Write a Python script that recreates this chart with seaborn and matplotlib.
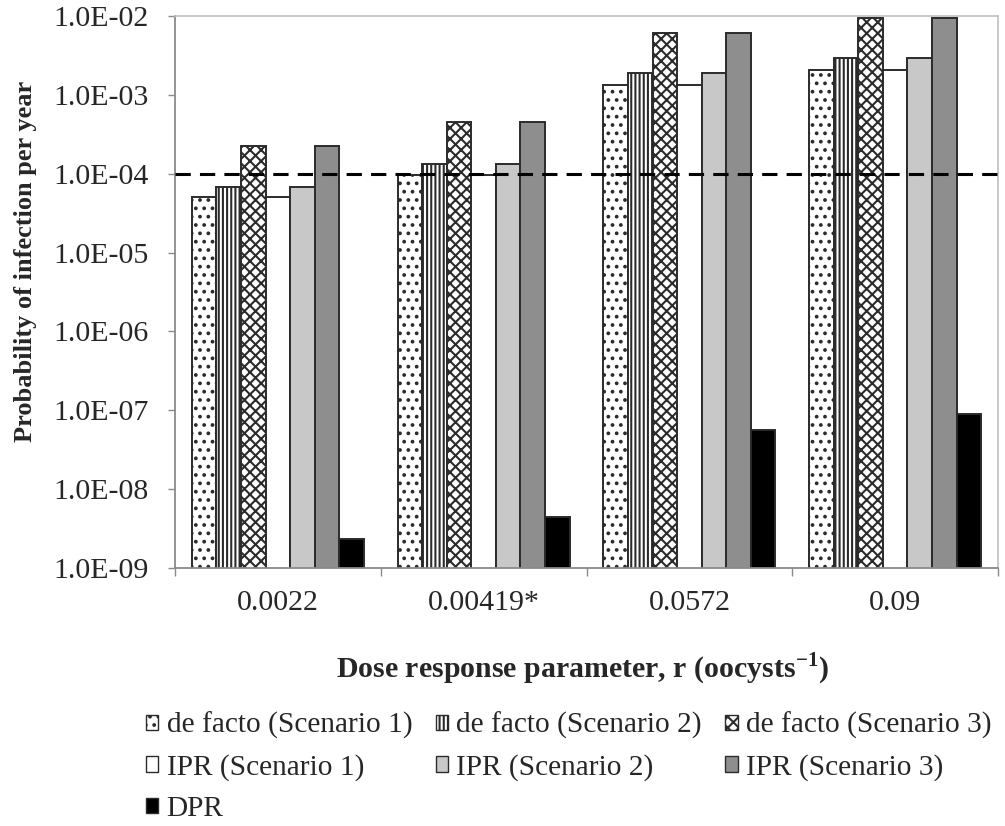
import numpy as np
import pandas as pd
import matplotlib
matplotlib.use("Agg")
import matplotlib.pyplot as plt
from matplotlib.patches import Patch
from matplotlib.ticker import FixedLocator, FuncFormatter, NullFormatter
import seaborn as sns

# Dose-response parameter values (categories on the x axis)
r_values = ["0.0022", "0.00419*", "0.0572", "0.09"]

# Annual probability of infection for each scenario
de_facto_s1 = [5.1e-5, 9.7e-5, 1.32e-3, 2.07e-3]
de_facto_s2 = [6.8e-5, 1.33e-4, 1.87e-3, 2.9e-3]
de_facto_s3 = [2.27e-4, 4.5e-4, 6.0e-3, 9.4e-3]
ipr_s1 = [5.1e-5, 9.7e-5, 1.32e-3, 2.07e-3]
ipr_s2 = [6.8e-5, 1.33e-4, 1.87e-3, 2.9e-3]
ipr_s3 = [2.27e-4, 4.5e-4, 6.0e-3, 9.4e-3]
dpr = [2.3e-9, 4.4e-9, 5.7e-8, 8.9e-8]

series_names = ["de facto (Scenario 1)", "de facto (Scenario 2)", "de facto (Scenario 3)",
                "IPR (Scenario 1)", "IPR (Scenario 2)", "IPR (Scenario 3)", "DPR"]
series_values = [de_facto_s1, de_facto_s2, de_facto_s3, ipr_s1, ipr_s2, ipr_s3, dpr]

benchmark = 1e-4  # tolerable annual risk

y_ticks = [1e-9, 1e-8, 1e-7, 1e-6, 1e-5, 1e-4, 1e-3, 1e-2]

df = pd.DataFrame([
    {"r": r, "series": name, "p": v}
    for name, vals in zip(series_names, series_values)
    for r, v in zip(r_values, vals)
])

# Fill / hatch styles per series
styles = {
    "de facto (Scenario 1)": dict(facecolor="white", hatch=".."),
    "de facto (Scenario 2)": dict(facecolor="white", hatch="||||"),
    "de facto (Scenario 3)": dict(facecolor="white", hatch="xxx"),
    "IPR (Scenario 1)": dict(facecolor="white", hatch=None),
    "IPR (Scenario 2)": dict(facecolor="#c8c8c8", hatch=None),
    "IPR (Scenario 3)": dict(facecolor="#8e8e8e", hatch=None),
    "DPR": dict(facecolor="black", hatch=None),
}

sns.set_style("white")
plt.rcParams["font.family"] = ["Liberation Serif", "DejaVu Serif"]
plt.rcParams["mathtext.fontset"] = "custom"
plt.rcParams["mathtext.rm"] = "Liberation Serif"
plt.rcParams["mathtext.bf"] = "Liberation Serif:bold"
plt.rcParams["hatch.linewidth"] = 1.5

FS_TICK = 21.5
FS_LEG = 21.2

fig = plt.figure(figsize=(10.05, 8.26), dpi=100)
ax = fig.add_axes([175 / 1005, 1 - 568 / 826, 823 / 1005, 552 / 826])

palette = {k: v["facecolor"] for k, v in styles.items()}
sns.barplot(data=df, x="r", y="p", hue="series", order=r_values,
            hue_order=series_names, palette=palette, width=0.836, gap=0,
            errorbar=None, legend=False, ax=ax, saturation=1)
ax.set_yscale("log")

edge = "#2b2b2b"
for name, cont in zip(series_names, ax.containers):
    st = styles[name]
    for bar in cont:
        bar.set_facecolor(st["facecolor"])
        bar.set_edgecolor(edge)
        bar.set_linewidth(1.4)
        if st["hatch"]:
            bar.set_hatch(st["hatch"])

ax.axhline(benchmark, color="black", linestyle=(0, (5, 3)), linewidth=2.2, zorder=5)

ax.set_ylim(1e-9, 1e-2)
ax.set_xlim(-0.5, len(r_values) - 0.5)

ax.yaxis.set_major_locator(FixedLocator(y_ticks))
ax.yaxis.set_minor_locator(FixedLocator([]))
ax.yaxis.set_major_formatter(FuncFormatter(lambda v, pos: f"{v:.1E}"))
ax.tick_params(axis="y", which="major", direction="out", length=5, width=1,
               color="#8a8a8a", labelsize=FS_TICK, pad=14, left=True)

ax.set_xticks(range(len(r_values)))
ax.set_xticklabels(r_values)
ax.xaxis.set_minor_locator(FixedLocator(np.arange(-0.5, len(r_values), 1.0)))
ax.xaxis.set_minor_formatter(NullFormatter())
ax.tick_params(axis="x", which="major", length=0, labelsize=FS_TICK, pad=16)
ax.tick_params(axis="x", which="minor", direction="out", length=6, width=1,
               color="#8a8a8a", bottom=True)

for side in ["left", "bottom"]:
    ax.spines[side].set_color("#8a8a8a")
    ax.spines[side].set_linewidth(1.3)
for side in ["top", "right"]:
    ax.spines[side].set_visible(True)
    ax.spines[side].set_color("#c0c0c0")
    ax.spines[side].set_linewidth(1.2)

ax.set_ylabel("Probability of infection per year", fontsize=19, fontweight="bold")
ax.yaxis.set_label_coords(-0.168, 0.555)
ax.set_xlabel(r"Dose response parameter, r (oocysts$^{\mathbf{-1}}$)",
              fontsize=21.5, fontweight="bold")
ax.xaxis.set_label_coords(0.495, -0.150)

# Legend laid out in three columns, filled row by row
handles = {name: Patch(facecolor=styles[name]["facecolor"], edgecolor=edge,
                       hatch=styles[name]["hatch"], linewidth=1.0)
           for name in series_names}
order = ["de facto (Scenario 1)", "IPR (Scenario 1)", "DPR",
         "de facto (Scenario 2)", "IPR (Scenario 2)",
         "de facto (Scenario 3)", "IPR (Scenario 3)"]
fig.legend([handles[n] for n in order], order, ncol=3, loc="upper left",
           bbox_to_anchor=(146 / 1005, 1 - 712 / 826), frameon=False,
           fontsize=FS_LEG, handlelength=0.42, handleheight=0.42, handletextpad=0.28,
           columnspacing=0.8, labelspacing=0.5, borderpad=0, borderaxespad=0)

fig.savefig("out.png", dpi=100)
